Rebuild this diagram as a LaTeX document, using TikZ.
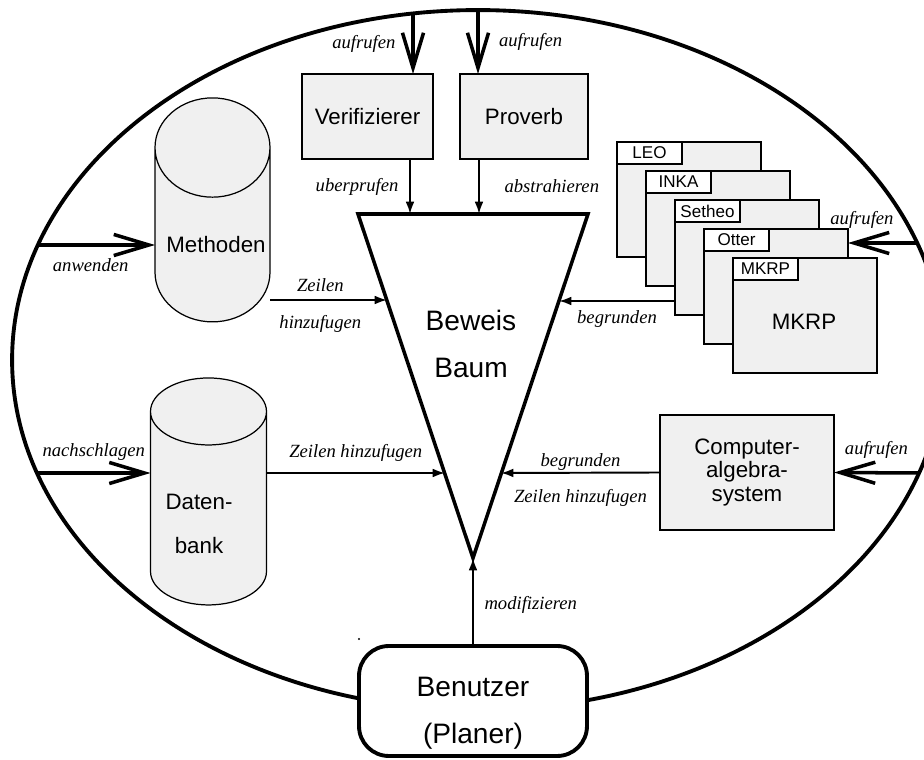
\documentclass[tikz,border=0pt]{standalone}
\usepackage{fontspec}
\setmainfont{Liberation Serif}
\setsansfont{Liberation Sans}
\usetikzlibrary{arrows.meta,shapes.geometric}
\definecolor{boxgray}{RGB}{240,240,240}
\tikzset{
  box/.style={draw, line width=0.7pt, fill=boxgray, outer sep=0pt, inner sep=0pt,
    align=center, font=\sffamily\fontsize{12.7}{13.6}\selectfont},
  tabbox/.style={draw, line width=0.7pt, fill=white, outer sep=0pt, inner sep=0pt,
    minimum width=1.3cm, minimum height=0.44cm, font=\sffamily\fontsize{9.7}{10}\selectfont},
  dbase/.style={cylinder, shape border rotate=90, aspect=1, draw, line width=0.7pt,
    fill=boxgray, outer sep=0pt, inner sep=0pt, align=center,
    font=\sffamily\fontsize{12.7}{25}\selectfont},
  txt/.style={align=center, font=\sffamily\fontsize{12.7}{25}\selectfont},
  lbl/.style={font=\itshape\fontsize{10.6}{12}\selectfont, inner sep=1pt},
  thin arrow/.style={line width=1.1pt, -{Latex[length=7pt,width=5pt]}},
  big arrow/.style={line width=2pt, -{Straight Barb[length=20pt,width=12pt]}}
}
\begin{document}
\begin{tikzpicture}[x=0.02cm, y=-0.02cm]
  \useasboundingbox (0,0) rectangle (924,760);
  % outer ring
  \draw[line width=2.2pt] (478,360) ellipse [x radius=9.32cm, y radius=7cm];
  \coordinate (vring) at (413,13);
  \coordinate (pring) at (478,10);
  \coordinate (mring) at (38,245);
  \coordinate (dring) at (37,473);
  \coordinate (oring) at (918,243);
  \coordinate (cring) at (919,473);

  % proof tree
  \coordinate (tl) at (358,214);
  \coordinate (tr) at (588,214);
  \coordinate (tip) at (473,558);
  \draw[line width=2pt, line join=miter] (tl) -- (tr) -- (tip) -- cycle;
  \node[font=\sffamily\fontsize{16}{27}\selectfont, align=center] (tree) at (471,344) {Beweis\\Baum};
  \coordinate (t1) at (410,214);
  \coordinate (t2) at (479,214);
  \coordinate (l1) at (387,300);
  \coordinate (l2) at (445,473);
  \coordinate (r1) at (559,301);
  \coordinate (r2) at (501,473);

  % top
  \node[box, minimum width=2.62cm, minimum height=1.7cm] (verif) at (367.5,116.5) {Verifizierer};
  \node[box, minimum width=2.56cm, minimum height=1.7cm] (prov) at (524,116.5) {Proverb};
  \draw[big arrow] (vring) -- node[lbl, left=8pt] {aufrufen} (vring |- verif.north);
  \draw[big arrow] (pring) -- node[lbl, right=10pt] {aufrufen} (pring |- prov.north);
  \draw[thin arrow] (verif.south -| t1) -- node[lbl, left=5pt] {uberprufen} (t1);
  \draw[thin arrow] (prov.south -| t2) -- node[lbl, right=13pt] {abstrahieren} (t2);

  % left
  \node[dbase, minimum width=2.3cm, minimum height=4.48cm] (meth) at (212.5,235) {\phantom{Methoden}};
  \node[txt] (methlbl) at (216,245) {Methoden};
  \node[dbase, minimum width=2.32cm, minimum height=4.54cm] (db) at (208.5,508.5) {\phantom{Daten-}\\\phantom{bank}};
  \node[txt] (dblbl) at (199,524) {Daten-\\bank};
  \draw[big arrow] (mring) -- node[lbl, below=6pt, pos=0.45] {anwenden} (meth.west |- mring);
  \draw[big arrow] (dring) -- node[lbl, above=5pt] {nachschlagen} (db.west |- dring);
  \draw[thin arrow] (meth.east |- l1) -- node[lbl, above=3pt, pos=0.43] {Zeilen}
    node[lbl, below=7pt, pos=0.43] {hinzufugen} (l1);
  \draw[thin arrow] (db.east |- l2) -- node[lbl, above=5pt] {Zeilen hinzufugen} (l2);

  % right: provers
  \foreach \nm/\txt [count=\i from 0] in {leo/LEO, inka/INKA, setheo/Setheo, otter/Otter, mkrp/MKRP} {
    \node[box, anchor=north west, minimum width=2.88cm, minimum height=2.3cm] (\nm) at ({617+29*\i},{142+29*\i}) {};
    \node[tabbox, anchor=north west] (\nm tab) at (\nm.north west) {\txt};
  }
  \node[txt] (mkrplbl) at (804,322) {MKRP};
  \draw[big arrow] (oring) -- node[lbl, above=6pt, pos=0.8] {aufrufen} (otter.east |- oring);
  \draw[thin arrow] (setheo.west |- r1) -- node[lbl, below=4pt] {begrunden} (r1);

  \node[box, minimum width=3.48cm, minimum height=2.3cm] (cas) at (747,472.5) {Computer-\\algebra-\\system};
  \draw[big arrow] (cring) -- node[lbl, above=6pt] {aufrufen} (cas.east);
  \draw[thin arrow] (cas.west) -- node[lbl, above=0pt] {begrunden}
    node[lbl, below=8pt] {Zeilen hinzufugen} (r2);

  % user
  \node[draw, line width=2.2pt, fill=white, rounded corners=17pt, minimum width=4.56cm,
    minimum height=2.2cm] (user) at (473,701) {};
  \node[align=center, font=\sffamily\fontsize{16}{26.6}\selectfont] (userlbl) at (473,713) {Benutzer\\(Planer)};
  \draw[thin arrow] (user.north) -- node[lbl, right=5pt, pos=0.46] {modifizieren} (tip);

  \fill (186,632) circle (0.7pt);
  \fill (359,639) circle (0.7pt);
\end{tikzpicture}
\end{document}
